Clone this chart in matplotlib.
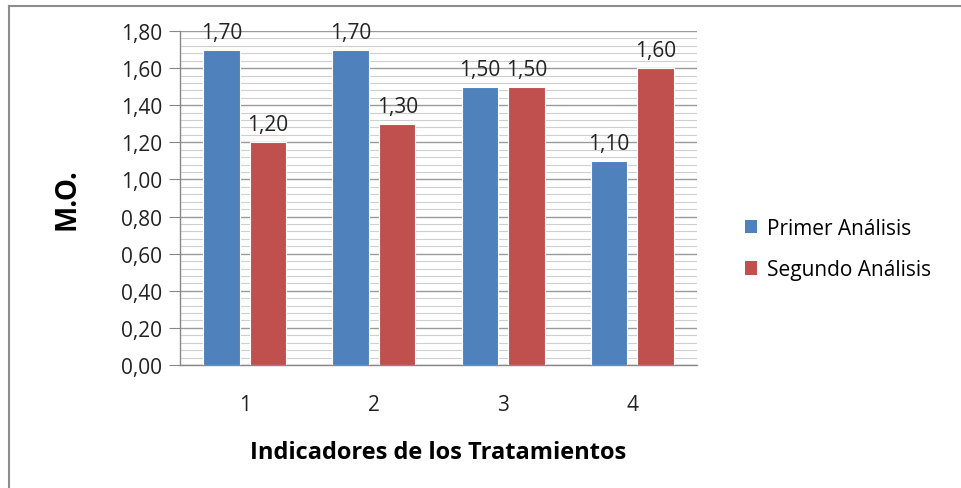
import matplotlib
matplotlib.use("Agg")
import matplotlib.pyplot as plt
from matplotlib.lines import Line2D
from matplotlib.patches import Patch
import numpy as np

categories = ["1", "2", "3", "4"]
primer = [1.70, 1.70, 1.50, 1.10]
segundo = [1.20, 1.30, 1.50, 1.60]
series_names = ["Primer Análisis", "Segundo Análisis"]
colors = ["#4F81BD", "#C0504D"]

plt.rcParams['font.family'] = ['Open Sans', 'DejaVu Sans']

W, H = 962, 489
fig = plt.figure(figsize=(W/100, H/100), dpi=100)
ax = fig.add_axes([180/W, 1-366/H, 517/W, 334/H])

x = np.arange(len(categories))
bw = 0.283
off = 0.18
b1 = ax.bar(x - off, primer, bw, color=colors[0], edgecolor="white", linewidth=0.8, zorder=3)
b2 = ax.bar(x + off, segundo, bw, color=colors[1], edgecolor="white", linewidth=0.8, zorder=3)

def fmt(v):
    return f"{v:.2f}".replace(".", ",")

FS = 15
for bars, vals in ((b1, primer), (b2, segundo)):
    for r, v in zip(bars, vals):
        ax.annotate(fmt(v), (r.get_x() + r.get_width()/2, v), xytext=(0, 5),
                    textcoords="offset points", ha="center", va="bottom",
                    fontsize=FS, color="#222222")

ax.set_xlim(-0.5, 3.5)
ax.set_ylim(0, 1.8)
ax.set_xticks(x)
ax.set_xticklabels(categories, fontsize=FS)
yt = np.arange(0, 1.81, 0.2)
ax.set_yticks(yt)
ax.set_yticklabels([fmt(v) for v in yt], fontsize=FS)
ax.set_yticks(np.arange(0, 1.801, 0.04), minor=True)
ax.tick_params(axis='x', length=0, pad=21, colors="#222222")
ax.tick_params(axis='y', which='major', length=8, color="#888888", pad=5, labelcolor="#222222")
ax.tick_params(axis='y', which='minor', length=0)
ax.grid(axis='y', which='major', color="#9a9a9a", linewidth=1.0, zorder=0)
ax.grid(axis='y', which='minor', color="#cfcfcf", linewidth=0.8, zorder=0)
ax.set_axisbelow(True)
for s in ("top", "right"):
    ax.spines[s].set_visible(False)
for s in ("left", "bottom"):
    ax.spines[s].set_color("#888888")
    ax.spines[s].set_linewidth(1.0)

ax.set_xlabel("Indicadores de los Tratamientos", fontsize=17, fontweight="bold", labelpad=18)
ax.set_ylabel("M.O.", fontsize=20, fontweight="bold", labelpad=28)

handles = [Patch(facecolor=c, edgecolor="none") for c in colors]
fig.legend(handles, series_names, loc="center left", bbox_to_anchor=(726/W, 1-250/H),
           frameon=False, fontsize=FS, handlelength=0.6, handleheight=0.6,
           handletextpad=0.45, labelspacing=1.0)

fig.add_artist(Line2D([9/W, 9/W], [0, 1-7/H], transform=fig.transFigure, color="#8c8c8c", linewidth=1.5))
fig.add_artist(Line2D([9/W, 1], [1-7/H, 1-7/H], transform=fig.transFigure, color="#8c8c8c", linewidth=1.5))

fig.savefig("out.png", dpi=100)
